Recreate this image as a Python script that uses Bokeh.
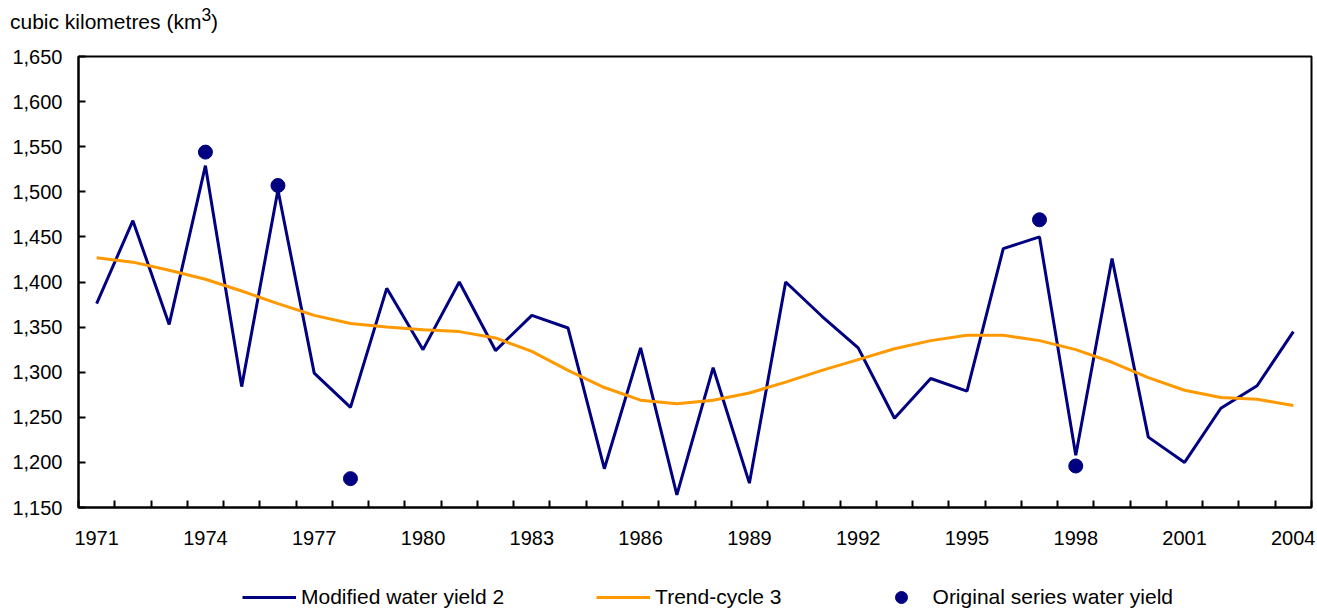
from bokeh.plotting import figure
from bokeh.layouts import column
from bokeh.models import (Range1d, FixedTicker, NumeralTickFormatter, Legend,
                          LegendItem, ColumnDataSource, Div)
from bokeh.embed import file_html
from bokeh.resources import INLINE

years = list(range(1971, 2005))
modified_yield = [1376, 1468, 1353, 1529, 1284, 1502, 1299, 1261, 1393, 1325,
                  1400, 1324, 1363, 1349, 1193, 1327, 1164, 1305, 1177, 1400,
                  1362, 1327, 1249, 1293, 1279, 1437, 1450, 1208, 1426, 1228,
                  1200, 1260, 1285, 1345]
trend_cycle = [1427, 1422, 1413, 1403, 1390, 1376, 1363, 1354, 1350, 1347,
               1345, 1338, 1323, 1302, 1283, 1269, 1265, 1269, 1277, 1289,
               1302, 1314, 1326, 1335, 1341, 1341, 1335, 1325, 1311, 1294,
               1280, 1272, 1270, 1263]
orig_years = [1974, 1976, 1978, 1997, 1998]
orig_yield = [1544, 1507, 1182, 1469, 1196]

y_ticks = list(range(1150, 1651, 50))
x_label_ticks = list(range(1971, 2005, 3))
x_bound_ticks = [y - 0.5 for y in range(1971, 2006)]

unit_title = "cubic kilometres (km<sup>3</sup>)"
series_names = ["Modified water yield 2", "Trend-cycle 3", "Original series water yield"]

FONT = "Liberation Sans"
NAVY = "#000080"
ORANGE = "#FF9900"
W = 1315

# header with the unit title
head = Div(text=('<div style="font-family:\'Liberation Sans\',Arial,sans-serif;'
                 'font-size:21px;color:black;line-height:30px;padding-left:10px;'
                 'white-space:nowrap;">' + unit_title + '</div>'),
           width=W, height=38, margin=0)

# main chart
p = figure(width=W, height=544, output_backend="svg", toolbar_location=None,
           x_range=Range1d(1970.5, 2004.5), y_range=Range1d(1150, 1650),
           min_border_left=78, min_border_right=4, min_border_top=18,
           min_border_bottom=75, title=None)

p.xgrid.visible = False
p.ygrid.visible = False
p.outline_line_color = "black"
p.outline_line_width = 2
p.background_fill_color = "white"
p.border_fill_color = "white"

xa = p.xaxis[0]
xa.ticker = FixedTicker(ticks=x_label_ticks, minor_ticks=x_bound_ticks)
xa.major_tick_line_color = None
xa.minor_tick_in = 7
xa.minor_tick_out = 0
xa.minor_tick_line_width = 2
xa.minor_tick_line_color = "black"
xa.axis_line_width = 2
xa.axis_line_color = "black"
xa.major_label_text_font = FONT
xa.major_label_text_font_size = "20px"
xa.major_label_text_color = "black"
xa.major_label_standoff = 17

ya = p.yaxis[0]
ya.ticker = FixedTicker(ticks=y_ticks)
ya.formatter = NumeralTickFormatter(format="0,0")
ya.major_tick_in = 7
ya.major_tick_out = 0
ya.major_tick_line_width = 2
ya.minor_tick_line_color = None
ya.axis_line_width = 2
ya.axis_line_color = "black"
ya.major_label_text_font = FONT
ya.major_label_text_font_size = "20px"
ya.major_label_text_color = "black"
ya.major_label_standoff = 16

src = ColumnDataSource(dict(year=years, mod=modified_yield, trend=trend_cycle))
p.line("year", "mod", source=src, line_color=NAVY, line_width=3)
p.line("year", "trend", source=src, line_color=ORANGE, line_width=3)
p.scatter(orig_years, orig_yield, size=14, marker="circle",
          fill_color=NAVY, line_color=NAVY)

# legend strip below the chart (its renderers hold the same data, outside its view)
leg = figure(width=W, height=30, output_backend="svg", toolbar_location=None,
             x_range=Range1d(0, 1), y_range=Range1d(0, 1),
             x_axis_type=None, y_axis_type=None, min_border=0, title=None)
leg.outline_line_color = None
leg.xgrid.visible = False
leg.ygrid.visible = False
leg.background_fill_color = "white"
leg.border_fill_color = "white"
k1 = leg.line("year", "mod", source=src, line_color=NAVY, line_width=3)
k2 = leg.line("year", "trend", source=src, line_color=ORANGE, line_width=3)
k3 = leg.scatter(orig_years, orig_yield, marker="circle",
                 fill_color=NAVY, line_color=NAVY)
legend = Legend(items=[LegendItem(label=series_names[0], renderers=[k1]),
                       LegendItem(label=series_names[1], renderers=[k2]),
                       LegendItem(label=series_names[2], renderers=[k3])],
                orientation="horizontal", location=(164, 0),
                spacing=92, glyph_width=54, glyph_height=30, label_height=20,
                label_standoff=5, padding=0, margin=0,
                border_line_color=None, background_fill_alpha=0,
                label_text_font=FONT, label_text_font_size="21px",
                label_text_color="black")
leg.add_layout(legend, "center")

layout = column(head, p, leg, spacing=0)
open("out.html", "w").write(file_html(layout, INLINE))
